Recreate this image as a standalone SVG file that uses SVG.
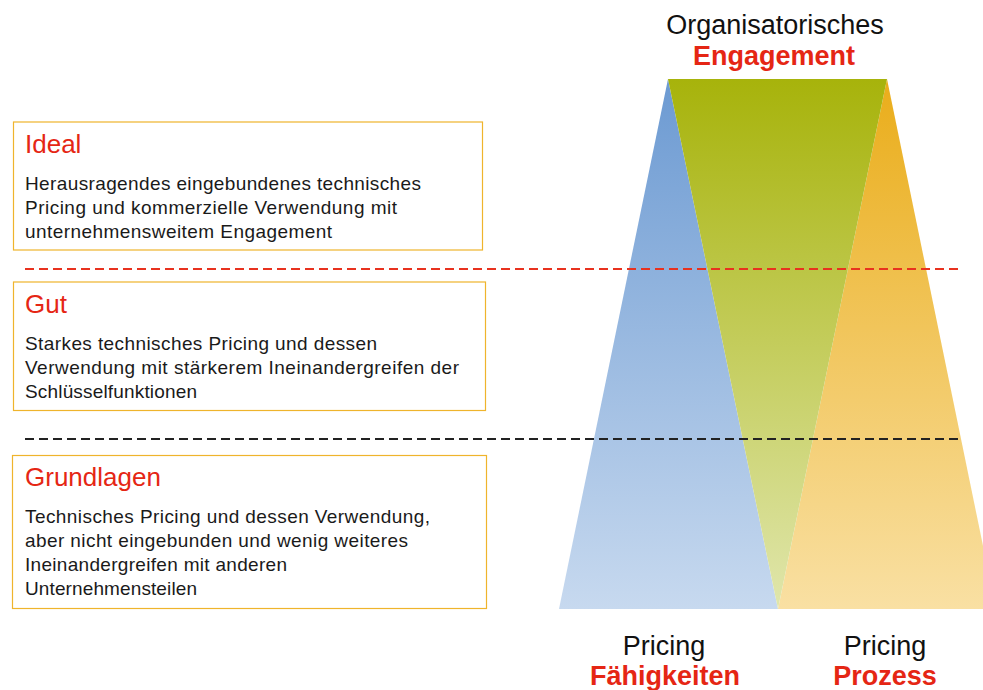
<svg xmlns="http://www.w3.org/2000/svg" width="983" height="690" viewBox="0 0 983 690">
<style>
.box{fill:#ffffff;stroke:#efb42c;stroke-width:1.2}
.title{font-family:"Liberation Sans",Arial,sans-serif;font-size:26px;fill:#e52614}
.body{font-family:"Liberation Sans",Arial,sans-serif;font-size:19px;fill:#1a1a1a}
.lbl{font-family:"Liberation Sans",Arial,sans-serif;font-size:27px;fill:#111111;text-anchor:middle}
.lblr{font-family:"Liberation Sans",Arial,sans-serif;font-size:27px;font-weight:bold;fill:#e52614;text-anchor:middle}
.dash{stroke-width:2;stroke-dasharray:9,5;fill:none}
</style>
<defs>
<linearGradient id="gBlue" gradientUnits="userSpaceOnUse" x1="0" y1="79" x2="0" y2="609">
<stop offset="0" stop-color="#6c9ad2"/><stop offset="1" stop-color="#c7d9ef"/>
</linearGradient>
<linearGradient id="gGreen" gradientUnits="userSpaceOnUse" x1="0" y1="79" x2="0" y2="609">
<stop offset="0" stop-color="#a7b30b"/><stop offset="1" stop-color="#e0e6ac"/>
</linearGradient>
<linearGradient id="gOrange" gradientUnits="userSpaceOnUse" x1="0" y1="79" x2="0" y2="609">
<stop offset="0" stop-color="#eaad1a"/><stop offset="1" stop-color="#f9e0a3"/>
</linearGradient>
</defs>
<rect width="983" height="690" fill="#ffffff"/>

<g id="tri-faehigkeiten"><polygon points="668,79 559,609 778,609" fill="url(#gBlue)"/></g>
<g id="tri-prozess"><polygon points="887,79 778,609 996,609" fill="url(#gOrange)"/></g>
<g id="tri-engagement"><polygon points="668,79 887,79 778,609" fill="url(#gGreen)"/></g>

<g id="separators">
<line class="dash" x1="25" y1="269" x2="960" y2="269" stroke="#e8321f"/>
<line class="dash" x1="25" y1="439" x2="960" y2="439" stroke="#222222"/>
</g>

<g id="box-ideal">
<rect class="box" x="13.5" y="122" width="469" height="128"/>
<text class="title" x="25" y="153">Ideal</text>
<text class="body" x="25" y="190" textLength="396" lengthAdjust="spacing">Herausragendes  eingebundenes  technisches</text>
<text class="body" x="25" y="214" textLength="372" lengthAdjust="spacing">Pricing und kommerzielle Verwendung mit</text>
<text class="body" x="25" y="238" textLength="307" lengthAdjust="spacing">unternehmensweitem  Engagement</text>
</g>

<g id="box-gut">
<rect class="box" x="13.5" y="282" width="472" height="128.5"/>
<text class="title" x="25" y="313">Gut</text>
<text class="body" x="25" y="350" textLength="352" lengthAdjust="spacing">Starkes technisches  Pricing und dessen</text>
<text class="body" x="25" y="374" textLength="434" lengthAdjust="spacing">Verwendung mit stärkerem Ineinandergreifen der</text>
<text class="body" x="25" y="398" textLength="172" lengthAdjust="spacing">Schlüsselfunktionen</text>
</g>

<g id="box-grundlagen">
<rect class="box" x="12.5" y="455.5" width="474" height="153"/>
<text class="title" x="25" y="486">Grundlagen</text>
<text class="body" x="25" y="523" textLength="405" lengthAdjust="spacing">Technisches  Pricing und dessen Verwendung,</text>
<text class="body" x="25" y="547" textLength="383" lengthAdjust="spacing">aber nicht eingebunden  und wenig weiteres</text>
<text class="body" x="25" y="571" textLength="262" lengthAdjust="spacing">Ineinandergreifen  mit anderen</text>
<text class="body" x="25" y="595" textLength="172" lengthAdjust="spacing">Unternehmensteilen</text>
</g>

<g id="label-engagement">
<text class="lbl" x="775" y="34">Organisatorisches</text>
<text class="lblr" x="774" y="65">Engagement</text>
</g>
<g id="label-faehigkeiten">
<text class="lbl" x="664" y="655">Pricing</text>
<text class="lblr" x="665" y="685">Fähigkeiten</text>
</g>
<g id="label-prozess">
<text class="lbl" x="885" y="655">Pricing</text>
<text class="lblr" x="885" y="685">Prozess</text>
</g>
</svg>
